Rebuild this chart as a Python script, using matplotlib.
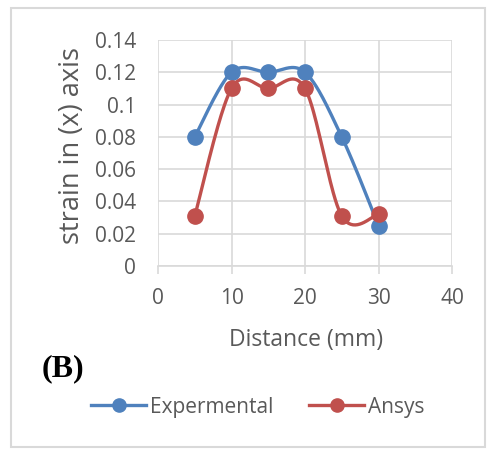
import numpy as np
import matplotlib
matplotlib.use("Agg")
import matplotlib.pyplot as plt
from matplotlib.lines import Line2D
from matplotlib.patches import Rectangle

distance = [5, 10, 15, 20, 25, 30]
experimental = [0.08, 0.12, 0.12, 0.12, 0.08, 0.025]
ansys = [0.031, 0.11, 0.11, 0.11, 0.031, 0.032]
series_names = ["Expermental", "Ansys"]
x_ticks = [0, 10, 20, 30, 40]
y_ticks = [0, 0.02, 0.04, 0.06, 0.08, 0.1, 0.12, 0.14]
y_tick_labels = ["0", "0.02", "0.04", "0.06", "0.08", "0.1", "0.12", "0.14"]

BLUE = "#4F81BD"
RED = "#C0504D"
GRAY = "#595959"
GRID = "#D9D9D9"
FONT = "Open Sans"


def smooth(xs, ys, n=40):
    xs = np.asarray(xs, float)
    ys = np.asarray(ys, float)
    px = np.concatenate([[xs[0]], xs, [xs[-1]]])
    py = np.concatenate([[ys[0]], ys, [ys[-1]]])
    ox, oy = [], []
    t = np.linspace(0, 1, n)
    for i in range(1, len(px) - 2):
        p0 = np.array([px[i], py[i]])
        p3 = np.array([px[i + 1], py[i + 1]])
        c1 = p0 + (np.array([px[i + 1], py[i + 1]]) - np.array([px[i - 1], py[i - 1]])) / 6
        c2 = p3 - (np.array([px[i + 2], py[i + 2]]) - np.array([px[i], py[i]])) / 6
        b = ((1 - t) ** 3)[:, None] * p0 + (3 * (1 - t) ** 2 * t)[:, None] * c1 \
            + (3 * (1 - t) * t ** 2)[:, None] * c2 + (t ** 3)[:, None] * p3
        ox.extend(b[:, 0])
        oy.extend(b[:, 1])
    return np.array(ox), np.array(oy)


fig = plt.figure(figsize=(4.87, 4.49), dpi=100)
fig.patches.append(Rectangle((11 / 487, 1 - 447 / 449), 474 / 487, 439 / 449,
                             transform=fig.transFigure, fill=False,
                             edgecolor="#D9D9D9", linewidth=1.5))
ax = fig.add_axes([158 / 487, 1 - 266 / 449, 294 / 487, 226 / 449])

for ys, c in [(experimental, BLUE), (ansys, RED)]:
    sx, sy = smooth(distance, ys)
    ax.plot(sx, sy, color=c, linewidth=2.4, zorder=3, solid_capstyle="round")
    ax.plot(distance, ys, "o", color=c, markersize=11, zorder=4)

ax.set_xlim(0, 40)
ax.set_ylim(0, 0.14)
ax.set_xticks(x_ticks)
ax.set_yticks(y_ticks)
ax.set_yticklabels(y_tick_labels)
ax.grid(True, color=GRID, linewidth=1.2)
ax.set_axisbelow(True)
for s in ["top", "right", "left"]:
    ax.spines[s].set_visible(False)
ax.spines["bottom"].set_color(GRID)
ax.spines["bottom"].set_linewidth(1.2)
ax.tick_params(axis="y", length=0, labelsize=15, labelcolor=GRAY, pad=16)
ax.tick_params(axis="x", length=5.8, color=GRID, width=1.2, labelsize=15, labelcolor=GRAY, pad=10)
for lab in ax.get_xticklabels() + ax.get_yticklabels():
    lab.set_fontfamily(FONT)

ax.set_xlabel("Distance (mm)", fontsize=16.5, color=GRAY, fontfamily=FONT, va="center")
ax.xaxis.set_label_coords(0.503, -0.327)
ax.set_ylabel("strain in (x) axis", fontsize=19.5, color=GRAY, fontfamily=FONT, va="center")
ax.yaxis.set_label_coords(-0.294, 0.535)

fig.text(42 / 487, 1 - 369 / 449, "(B)", fontsize=23, fontweight="bold",
         fontfamily="Liberation Serif", va="center", ha="left")

handles = [Line2D([0], [0], color=BLUE, linewidth=2.4, marker="o", markersize=9.5),
           Line2D([0], [0], color=RED, linewidth=2.4, marker="o", markersize=9.5)]
fig.legend(handles, series_names, loc="center", bbox_to_anchor=(258 / 487, 1 - 407 / 449),
           ncol=2, frameon=False, handlelength=2.64, columnspacing=1.7, handletextpad=0.2,
           borderpad=0, prop={"family": FONT, "size": 15}, labelcolor=GRAY)

fig.savefig("out.png", dpi=100)
